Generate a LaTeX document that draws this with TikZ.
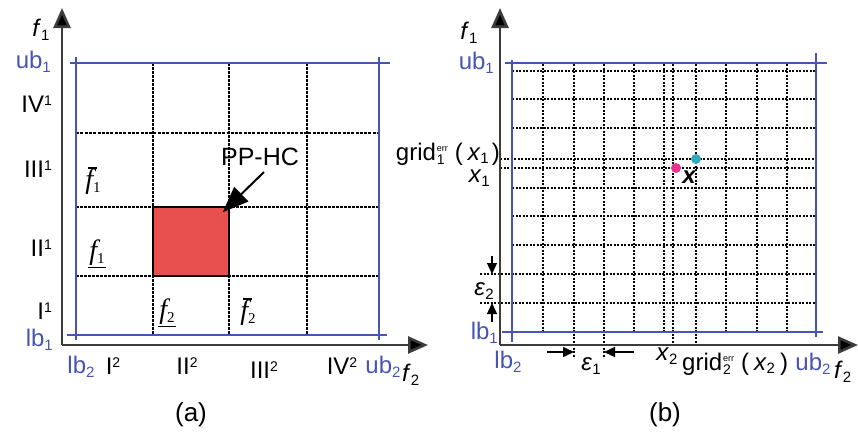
\documentclass[tikz,border=0pt]{standalone}
\usepackage{fontspec}
\setmainfont{Liberation Sans}
\newfontfamily\tms{Liberation Serif}
\usetikzlibrary{arrows.meta}
\definecolor{axg}{RGB}{60,60,60}
\definecolor{bl}{RGB}{70,85,180}
\definecolor{rd}{RGB}{232,80,80}
\definecolor{pk}{RGB}{232,50,140}
\definecolor{cy}{RGB}{50,170,190}
\newcommand{\supsub}[2]{\hspace{1pt}\rlap{\raisebox{9pt}{\fontsize{9}{9}\selectfont #1}}\raisebox{-4pt}{\fontsize{14}{14}\selectfont #2}\hspace{10pt}}
\newcommand{\subx}[1]{\raisebox{-3.5pt}{\fontsize{15}{15}\selectfont #1}}
\newcommand{\supx}[1]{\raisebox{7pt}{\fontsize{14}{14}\selectfont #1}}
\newcommand{\barf}[1]{\makebox[0pt][l]{\hspace{3pt}\raisebox{20pt}{\rule{9pt}{1.1pt}}}f\raisebox{-4pt}{\fontsize{15}{15}\selectfont\upshape #1}}
\newcommand{\ulf}[1]{\makebox[0pt][l]{\hspace{-1pt}\raisebox{-9pt}{\rule{18pt}{1.1pt}}}f\raisebox{-4pt}{\fontsize{15}{15}\selectfont\upshape #1}}
\begin{document}
\begin{tikzpicture}[x=1pt,y=-1pt,
  axis/.style={draw=axg,line width=2.6pt,-{Triangle[length=20pt,width=17pt,fill=black]}},
  bline/.style={draw=bl,line width=1.8pt},
  gA/.style={draw=black,line width=1.3pt,dash pattern=on 2.5pt off 1.5pt},
  gAthick/.style={draw=black,line width=2.2pt,dash pattern=on 3pt off 1.3pt},
  gB/.style={draw=black,line width=1.2pt,dash pattern=on 2.2pt off 1.3pt},
  lab/.style={inner sep=0pt,font=\fontsize{24}{24}\selectfont},
  blab/.style={lab,text=bl},
  flab/.style={inner sep=0pt,font=\fontsize{28}{28}\selectfont\tms\itshape},
  small arrow/.style={draw=black,line width=1.4pt,-{Triangle[length=11pt,width=10pt]}}]
\useasboundingbox (0,0) rectangle (858,431);

% ================= panel (a) =================
\coordinate (aO) at (62,345);
\coordinate (aYtop) at (62,8);
\coordinate (aXend) at (428,345);
% grid
\foreach \x/\n in {153/1,229/2,307/3}{
  \coordinate (av\n t) at (\x,63); \coordinate (av\n b) at (\x,335);
  \draw[gA] (av\n t) -- (av\n b);}
\coordinate (ah1l) at (76,133); \coordinate (ah1r) at (379,133);
\coordinate (ah2l) at (76,207); \coordinate (ah2r) at (379,207);
\coordinate (ah3l) at (76,276); \coordinate (ah3r) at (379,276);
\draw[gAthick] (ah1l) -- (ah1r);
\draw[gA] (ah2l) -- (ah2r);
\draw[gA] (ah3l) -- (ah3r);
% red box
\node[draw=black,line width=1.5pt,fill=rd,minimum width=76pt,minimum height=69pt,inner sep=0pt] (box) at (191,241.5) {};
% blue bounds
\coordinate (aTl) at (70,63); \coordinate (aTr) at (390,63);
\coordinate (aBl) at (67,335); \coordinate (aBr) at (387,335);
\coordinate (aLt) at (76,57); \coordinate (aLb) at (76,340);
\coordinate (aRt) at (379,57); \coordinate (aRb) at (379,340);
\draw[bline] (aTl) -- (aTr);
\draw[bline] (aBl) -- (aBr);
\draw[bline] (aLt) -- (aLb);
\draw[bline] (aRt) -- (aRb);
% axes
\draw[axis] (aO) -- (aYtop);
\draw[axis] (aO) -- (aXend);
% labels
\node[lab] (af1) at (41,30) {\textit{f}\subx{1}};
\node[blab,anchor=east] (aub1) at (51,62) {ub\subx{1}};
\node[lab,anchor=east] (aIV) at (52,104) {IV\supx{1}};
\node[lab,anchor=east] (aIII) at (52,169) {III\supx{1}};
\node[lab,anchor=east] (aII) at (52,248) {II\supx{1}};
\node[lab,anchor=east] (aI) at (52,311) {I\supx{1}};
\node[blab,anchor=east] (alb1) at (53,340) {lb\subx{1}};
\node[blab] (alb2) at (81,367) {lb\subx{2}};
\node[lab] (aI2) at (113,366) {I\supx{2}};
\node[lab] (aII2) at (187,366) {II\supx{2}};
\node[lab] (aIII2) at (264,370) {III\supx{2}};
\node[lab] (aIV2) at (342,366) {IV\supx{2}};
\node[blab] (aub2) at (383,367) {ub\subx{2}};
\node[lab,anchor=west] (af2) at (402,375) {\textit{f}\subx{2}};
\node[lab,font=\fontsize{26}{26}\selectfont] (capa) at (191,415) {(a)};
\node[flab] (fbar1) at (93,181) {\barf{1}};
\node[flab] (funder1) at (97,254) {\ulf{1}};
\node[flab] (funder2) at (167,313) {\ulf{2}};
\node[flab] (fbar2) at (248,312) {\barf{2}};
\node[lab,font=\fontsize{25}{25}\selectfont] (pphc) at (260,157) {PP-HC};
\coordinate (ppA) at (264,172);
\draw[line width=2pt,-{Triangle[length=26pt,width=20pt]}] (ppA) -- ([xshift=-7pt,yshift=-6pt]box.north east);

% ================= panel (b) =================
\coordinate (bO) at (500,345);
\coordinate (bYtop) at (500,8);
\coordinate (bXend) at (858,345);
% vertical grid lines
\foreach \x in {543,634,664,726,757,787}{
  \draw[gB] (\x,64) -- (\x,332);}
\coordinate (e1at) at (574,64); \coordinate (e1ab) at (574,358);
\coordinate (e1bt) at (604,64); \coordinate (e1bb) at (604,358);
\draw[gB] (e1at) -- (e1ab);
\draw[gB] (e1bt) -- (e1bb);
\coordinate (x2t) at (673,64); \coordinate (x2b) at (673,345);
\coordinate (g2t) at (696,64); \coordinate (g2b) at (696,345);
\draw[gB] (x2t) -- (x2b);
\draw[gB] (g2t) -- (g2b);
% horizontal grid lines
\foreach \y in {71,99,128,188,216,245}{
  \draw[gB] (512,\y) -- (815,\y);}
\coordinate (g1l) at (500,159); \coordinate (g1r) at (815,159);
\coordinate (x1l) at (500,168); \coordinate (x1r) at (815,168);
\draw[gB] (g1l) -- (g1r);
\draw[gB] (x1l) -- (x1r);
\coordinate (e2al) at (480,274); \coordinate (e2ar) at (815,274);
\coordinate (e2bl) at (480,303); \coordinate (e2br) at (815,303);
\draw[gB] (e2al) -- (e2ar);
\draw[gB] (e2bl) -- (e2br);
% blue bounds
\coordinate (bTl) at (505,63); \coordinate (bTr) at (827,63);
\coordinate (bBl) at (502,332); \coordinate (bBr) at (823,332);
\coordinate (bLt) at (512,60); \coordinate (bLb) at (512,342);
\coordinate (bRt) at (816,53); \coordinate (bRb) at (816,337);
\draw[bline] (bTl) -- (bTr);
\draw[bline] (bBl) -- (bBr);
\draw[bline] (bLt) -- (bLb);
\draw[bline] (bRt) -- (bRb);
% axes
\draw[axis] (bO) -- (bYtop);
\draw[axis] (bO) -- (bXend);
% points
\node[circle,fill=pk,inner sep=0pt,minimum size=10pt] (pink) at (676,168) {};
\node[circle,fill=cy,inner sep=0pt,minimum size=10pt] (cyan) at (696,159) {};
\node[lab,font=\fontsize{24}{24}\selectfont\bfseries\itshape] (xpt) at (689,177) {x};
% epsilon markers
\coordinate (e2s1) at (492,256); \coordinate (e2s2) at (492,322);
\draw[small arrow] (e2s1) -- (e2al -| e2s1);
\draw[small arrow] (e2s2) -- (e2bl -| e2s2);
\coordinate (e1s1) at (547,352); \coordinate (e1s2) at (634,352);
\draw[small arrow] (e1s1) -- (e1ab |- e1s1);
\draw[small arrow] (e1s2) -- (e1bb |- e1s2);
\node[lab] (eps2) at (484,291) {\textit{ε}\subx{2}};
\node[lab] (eps1) at (591,366) {\textit{ε}\subx{1}};
% labels
\node[lab] (bf1) at (469,33) {\textit{f}\subx{1}};
\node[blab,anchor=east] (bub1) at (494,63) {ub\subx{1}};
\node[lab,anchor=east] (grid1) at (500,154) {grid\supsub{err}{1}(\hspace{5pt}\textit{x}\subx{1}\hspace{3pt})};
\node[lab,anchor=east] (bx1) at (490,178) {\textit{x}\subx{1}};
\node[blab,anchor=east] (blb1) at (498,333) {lb\subx{1}};
\node[blab] (blb2) at (508,362) {lb\subx{2}};
\node[lab] (bx2) at (667,356) {\textit{x}\subx{2}};
\node[lab,anchor=west] (grid2) at (682,364) {grid\supsub{err}{2}(\hspace{5pt}\textit{x}\subx{2}\hspace{5pt})};
\node[blab] (bub2) at (813,364) {ub\subx{2}};
\node[lab,anchor=west] (bf2) at (834,372) {\textit{f}\subx{2}};
\node[lab,font=\fontsize{26}{26}\selectfont] (capb) at (665,415) {(b)};
\end{tikzpicture}
\end{document}
